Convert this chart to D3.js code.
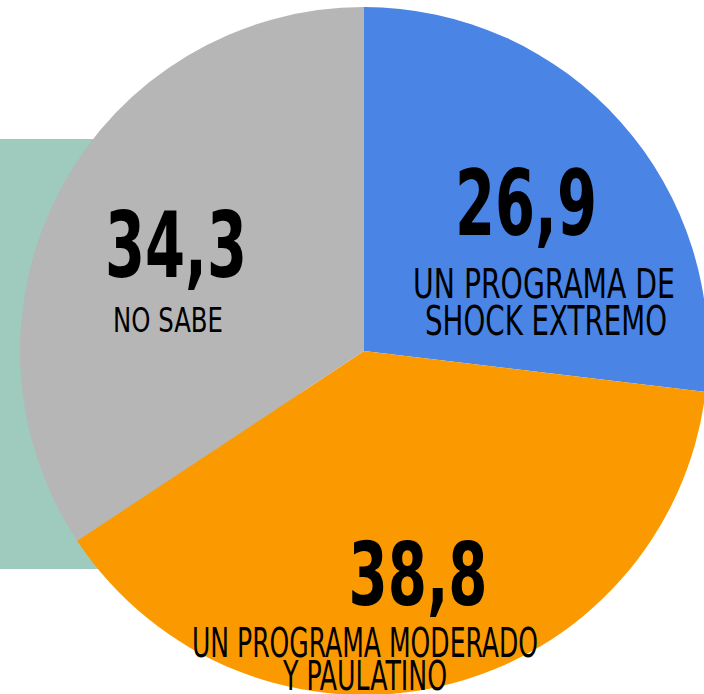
<!DOCTYPE html>
<html>
<head>
<meta charset="utf-8">
<script src="https://cdn.jsdelivr.net/npm/d3@7"></script>
<style>
  html, body { margin: 0; padding: 0; background: #fff; }
  text { font-family: "Liberation Sans Narrow", "DejaVu Sans Condensed", "Roboto", sans-serif; fill: #000; }
</style>
</head>
<body>
<svg id="chart" width="704" height="694"></svg>
<script>
const categories = ['shock', 'moderado', 'nosabe'];
const values = [26.9, 38.8, 34.3];
const valueLabels = ['26,9', '38,8', '34,3'];
const nameLines = [
    ['UN PROGRAMA DE', 'SHOCK EXTREMO'],
    ['UN PROGRAMA MODERADO', 'Y PAULATINO'],
    ['NO SABE'],
];
const colors = ['#4a84e4', '#fb9a00', '#b6b6b6'];

// label placement (per slice), kept apart from the data
const labelLayout = [
    { x: 526, y: 235, numW: 142, numSize: 90, lines: [{dx: 18, w: 262}, {dx: 20, w: 242}], lineSize: 41, gap: 37, first: 63 },
    { x: 418, y: 605, numW: 139, numSize: 88, lines: [{dx: -53, w: 346}, {dx: -53, w: 164}], lineSize: 41, gap: 33, first: 52 },
    { x: 176, y: 277, numW: 142, numSize: 90, lines: [{dx: -8, w: 110}], lineSize: 33, gap: 0, first: 55 },
];

const width = 704, height = 694;
const cx = 364, cy = 351, radius = 344;

const svg = d3.select('#chart');

// teal block behind the pie
svg.append('rect')
    .attr('x', 0)
    .attr('y', 139)
    .attr('width', 300)
    .attr('height', 430)
    .attr('fill', '#9ecbbd');

const pie = d3.pie().sort(null).value(d => d);
const arc = d3.arc().innerRadius(0).outerRadius(radius);
const arcs = pie(values);

const g = svg.append('g')
    .attr('transform', 'translate(' + cx + ',' + cy + ')');

g.selectAll('path.slice')
    .data(arcs)
  .enter().append('path')
    .attr('class', 'slice')
    .attr('d', arc)
    .attr('fill', (d, i) => colors[i]);

// labels
const labels = svg.selectAll('g.label')
    .data(categories)
  .enter().append('g')
    .attr('class', 'label');

labels.append('text')
    .attr('x', (d, i) => labelLayout[i].x)
    .attr('y', (d, i) => labelLayout[i].y)
    .attr('text-anchor', 'middle')
    .attr('font-weight', 'bold')
    .attr('font-size', (d, i) => labelLayout[i].numSize)
    .attr('textLength', (d, i) => labelLayout[i].numW)
    .attr('lengthAdjust', 'spacingAndGlyphs')
    .text((d, i) => valueLabels[i]);

labels.each(function(d, i) {
    const L = labelLayout[i];
    d3.select(this).selectAll('text.name')
        .data(nameLines[i])
      .enter().append('text')
        .attr('class', 'name')
        .attr('x', (t, j) => L.x + L.lines[j].dx)
        .attr('y', (t, j) => L.y + L.first + j * L.gap)
        .attr('text-anchor', 'middle')
        .attr('font-size', L.lineSize)
        .attr('textLength', (t, j) => L.lines[j].w)
        .attr('lengthAdjust', 'spacingAndGlyphs')
        .text(t => t);
});
</script>
</body>
</html>
